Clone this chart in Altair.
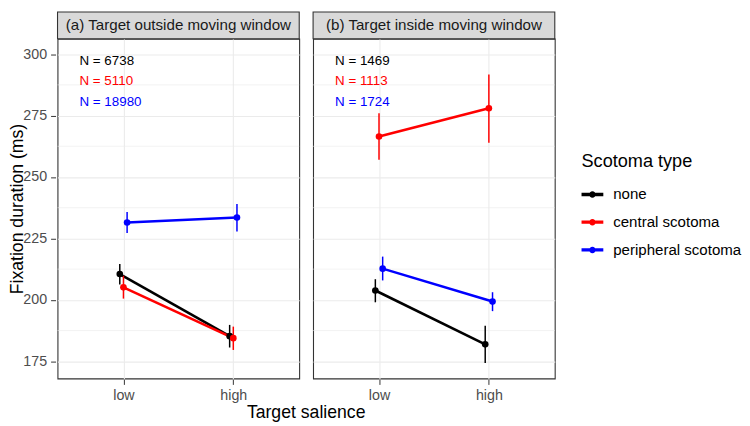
import altair as alt
import pandas as pd

panels = ["(a) Target outside moving window", "(b) Target inside moving window"]
groups = ["none", "central scotoma", "peripheral scotoma"]
salience = ["low", "high"]
colors = ["#000000", "#FF0000", "#0000FF"]

# rows = groups (none, central, peripheral); columns = salience (low, high)
mean_outside = [[210.5, 185.2], [205.1, 184.4], [231.5, 233.5]]
lower_outside = [[206.2, 180.6], [200.5, 179.6], [227.2, 227.8]]
upper_outside = [[214.6, 189.8], [209.8, 189.1], [235.8, 239.0]]

mean_inside = [[203.8, 181.9], [266.5, 278.0], [212.7, 199.3]]
lower_inside = [[199.0, 174.3], [257.0, 263.9], [207.9, 195.4]]
upper_inside = [[208.4, 189.5], [276.0, 291.7], [217.6, 203.1]]

n_outside = [6738, 5110, 18980]
n_inside = [1469, 1113, 1724]

y_ticks = [175, 200, 225, 250, 275, 300]

W = 244
H = 343
STRIP = 27

rows = []
sets = [
    (mean_outside, lower_outside, upper_outside, n_outside),
    (mean_inside, lower_inside, upper_inside, n_inside),
]
minor = [(a + b) / 2 for a, b in zip(y_ticks[:-1], y_ticks[1:])]
for p, (m, lo, hi, ns) in enumerate(sets):
    for gi, g in enumerate(groups):
        for si, s in enumerate(salience):
            rows.append(dict(kind="pt", panel=panels[p], group=g, gi=gi,
                             salience=s, si=si, mean=m[gi][si],
                             lo=lo[gi][si], hi=hi[gi][si]))
        rows.append(dict(kind="ann", panel=panels[p], group=g, gi=gi,
                         label=f"N = {ns[gi]}"))
    for v in minor:
        rows.append(dict(kind="minor", panel=panels[p], yv=v))
    rows.append(dict(kind="strip", panel=panels[p]))

df = pd.DataFrame(rows)

xscale = alt.Scale(domain=[0.4, 2.6], nice=False, zero=False)
yscale = alt.Scale(domain=[168.0, 306.3], nice=False, zero=False)
cscale = alt.Scale(domain=groups, range=colors)

x_axis = alt.Axis(values=[1, 2], labelExpr="datum.value == 1 ? 'low' : 'high'",
                  title=None)
y_axis = alt.Axis(values=y_ticks, title="Fixation duration (ms)")

symbol = ("M-1,-0.15L1,-0.15L1,0.15L-1,0.15Z "
          "M0.3,0A0.3,0.3 0 1,1 -0.3,0A0.3,0.3 0 1,1 0.3,0Z")
legend = alt.Legend(
    title="Scotoma type", symbolType=symbol, symbolSize=484,
    symbolStrokeWidth=0, symbolOpacity=1,
    titleFontSize=18.3, titleFontWeight="normal", titleColor="#000000",
    labelFontSize=15.2, labelColor="#000000", rowPadding=8,
    titlePadding=12, labelOffset=10, padding=0,
    orient="none", legendX=529, legendY=116,
)
color = alt.Color("group:N", scale=cscale, sort=groups, legend=legend)

pts = alt.Chart().transform_filter("datum.kind == 'pt'").transform_calculate(
    xpos="datum.si + 1 + (datum.gi - 1) * 0.0333"
)

minor_grid = alt.Chart().transform_filter("datum.kind == 'minor'").mark_rule(
    color="#EBEBEB", strokeWidth=0.6
).encode(y=alt.Y("yv:Q", scale=yscale, axis=y_axis))

lines = pts.mark_line(strokeWidth=2.6).encode(
    x=alt.X("xpos:Q", scale=xscale, axis=x_axis),
    y=alt.Y("mean:Q", scale=yscale, axis=y_axis),
    color=color,
)

errs = pts.mark_rule(strokeWidth=1.5).encode(
    x=alt.X("xpos:Q", scale=xscale, axis=x_axis),
    y=alt.Y("lo:Q", scale=yscale, axis=y_axis),
    y2="hi:Q",
    color=color,
)

points = pts.mark_point(filled=True, size=45, opacity=1).encode(
    x=alt.X("xpos:Q", scale=xscale, axis=x_axis),
    y=alt.Y("mean:Q", scale=yscale, axis=y_axis),
    color=color,
)

ann = alt.Chart().transform_filter("datum.kind == 'ann'").transform_calculate(
    ax="0.6", ay="300 - 8.25 * datum.gi"
).mark_text(align="left", baseline="top", fontSize=13.5).encode(
    x=alt.X("ax:Q", scale=xscale, axis=x_axis),
    y=alt.Y("ay:Q", scale=yscale, axis=y_axis),
    text="label:N",
    color=color,
)

strip_bg = alt.Chart().transform_filter("datum.kind == 'strip'").mark_rect(
    fill="#D9D9D9", stroke="#333333", strokeWidth=1.1
).encode(x=alt.value(0), x2=alt.value(W), y=alt.value(-STRIP), y2=alt.value(0))

strip_txt = alt.Chart().transform_filter("datum.kind == 'strip'").mark_text(
    fontSize=15.3, color="#1A1A1A", baseline="middle"
).encode(x=alt.value(W / 2), y=alt.value(-STRIP / 2), text="panel:N")

layered = alt.layer(minor_grid, lines, errs, points, ann, strip_bg, strip_txt,
                    data=df).properties(width=W, height=H)

chart = layered.facet(
    column=alt.Column("panel:N", sort=panels, title="Target salience",
                      header=alt.Header(labels=False, labelPadding=0,
                                        titleOrient="bottom",
                                        titleFontSize=17.8,
                                        titleFontWeight="normal",
                                        titleColor="#000000",
                                        titlePadding=-8))
).properties(
    spacing=10, padding=0
).configure(
    font="Liberation Sans"
).configure_view(
    stroke="#333333", strokeWidth=1.1, fill="white"
).configure_axis(
    domain=False, grid=True, gridColor="#EBEBEB", gridWidth=1.1,
    tickColor="#333333", tickSize=5, tickWidth=1,
    labelFontSize=14.4, labelColor="#4D4D4D", labelPadding=4,
    titleFontSize=17.8, titleFontWeight="normal", titleColor="#000000",
).configure_axisY(titlePadding=-4)

chart.save("out.html", embed_options={"renderer": "svg", "actions": False})
